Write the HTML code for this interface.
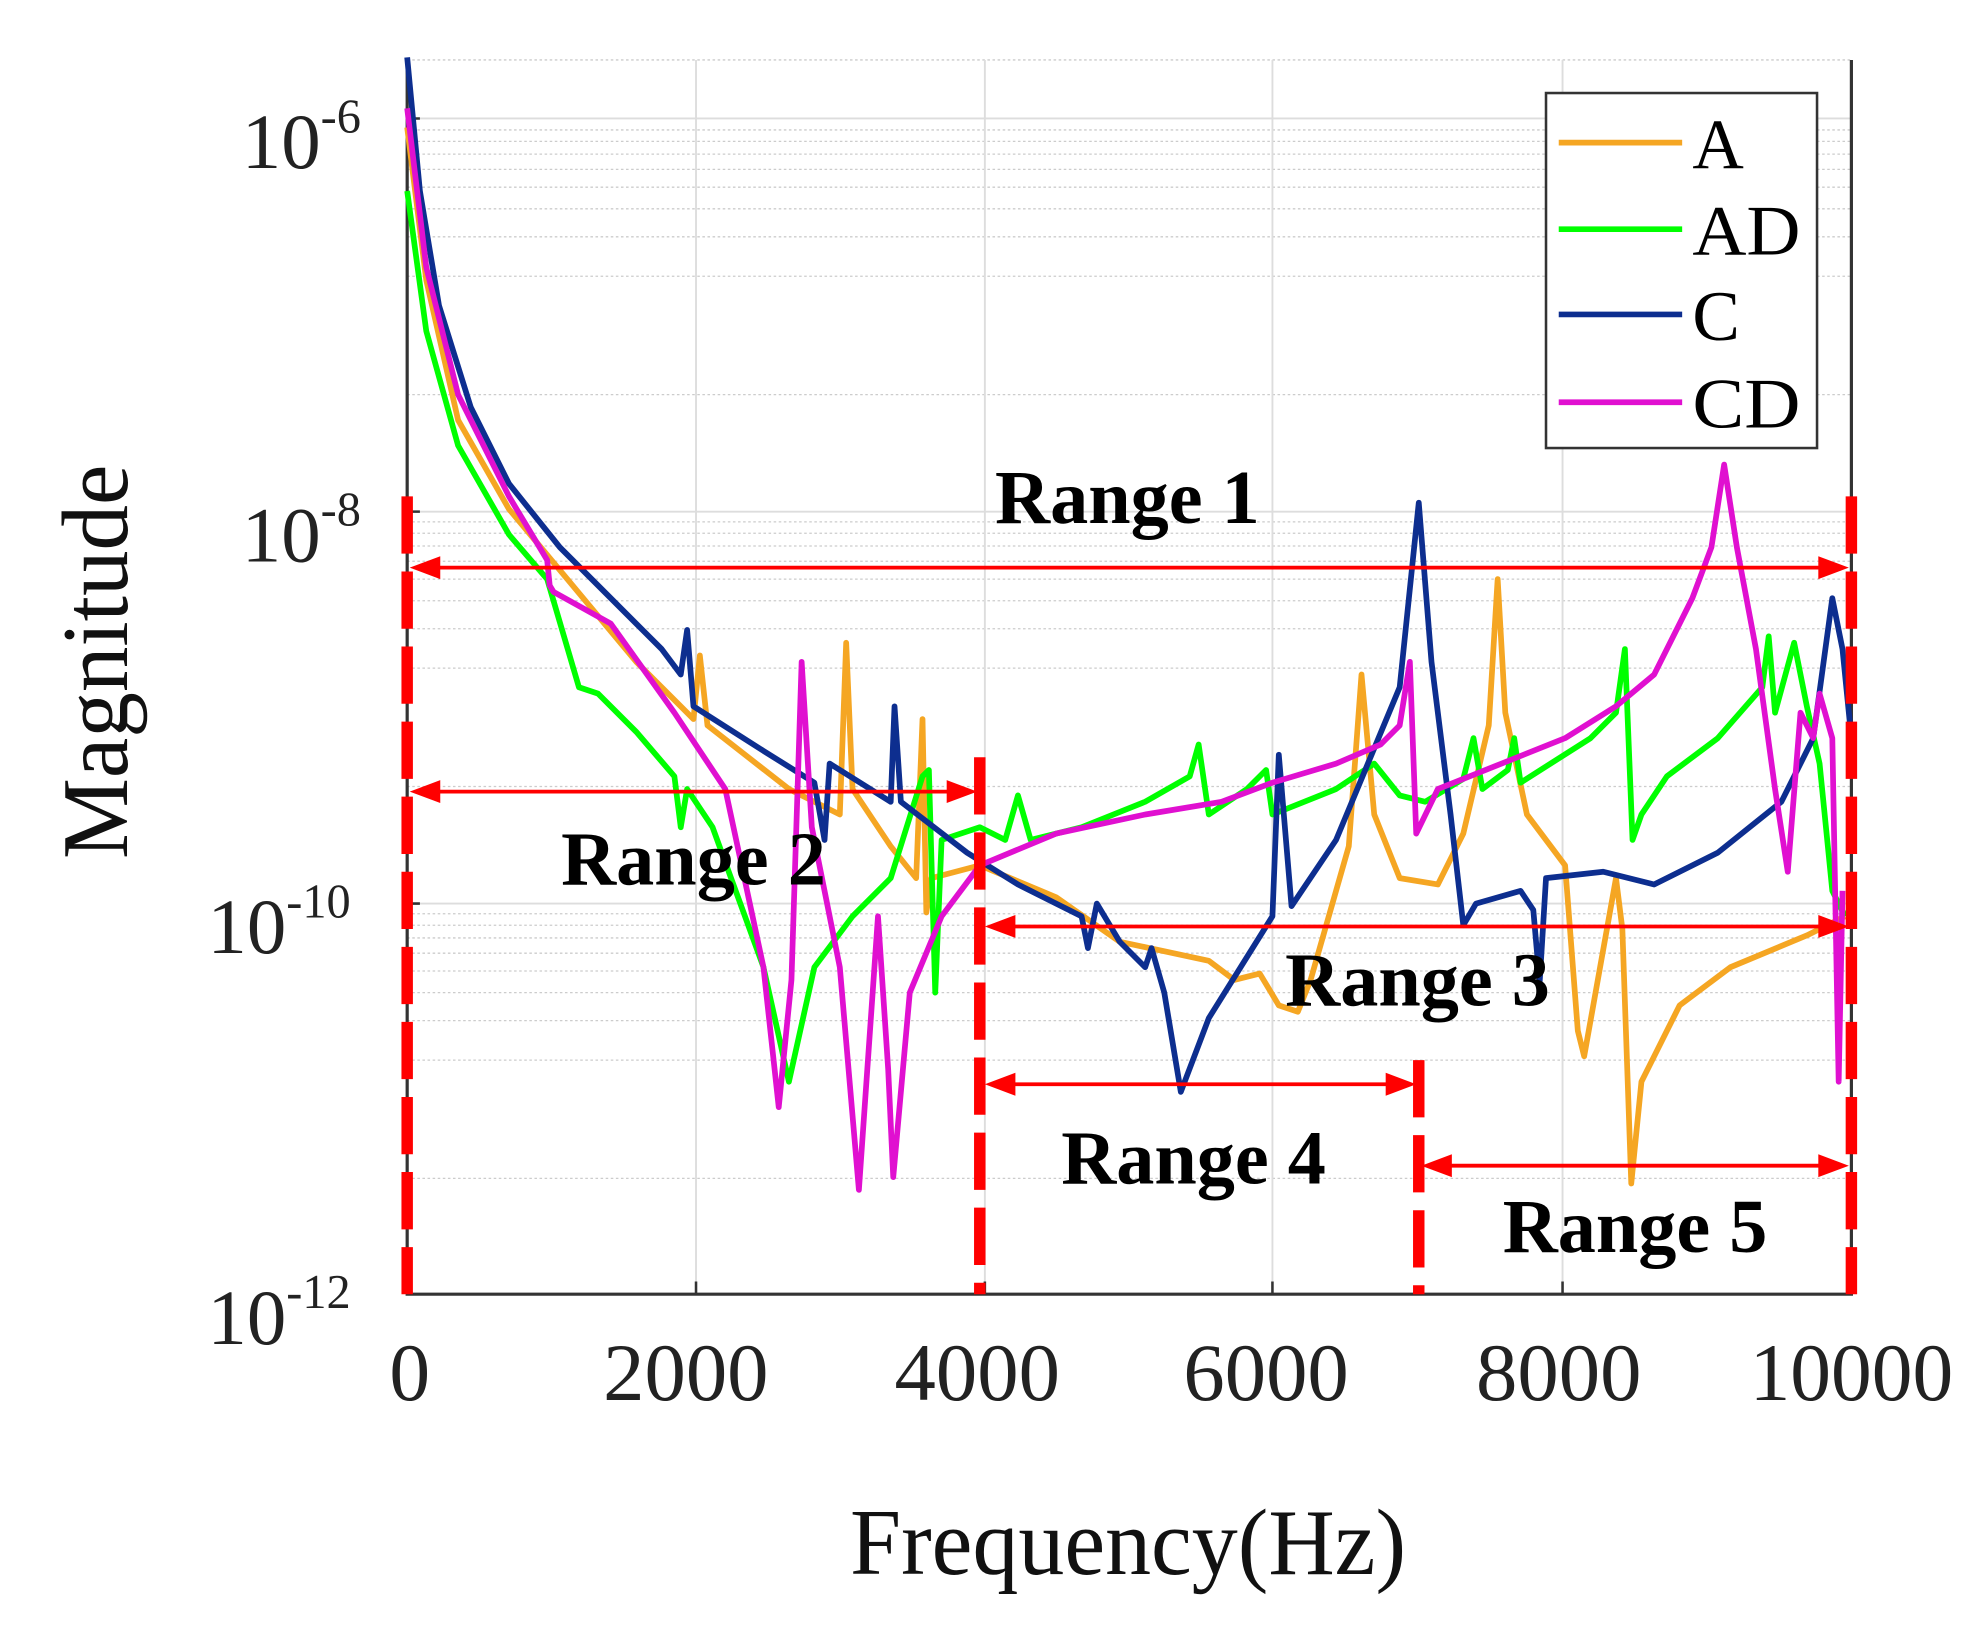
<!DOCTYPE html>
<html><head><meta charset="utf-8"><style>html,body{margin:0;padding:0;background:#fff}svg{display:block}</style></head>
<body>
<svg width="1985" height="1629" viewBox="0 0 1560 1280" xmlns="http://www.w3.org/2000/svg" font-family="'Liberation Serif',serif">
<rect width="1560" height="1280" fill="#fff"/>
<g stroke="#ccc" stroke-width="1" stroke-dasharray="2,2">
<path d="M320 47H1455M320 310H1455M320 217H1455M320 186H1455M320 164H1455M320 147H1455M320 133H1455M320 121H1455M320 111H1455M320 102H1455
M320 618H1455M320 525H1455M320 494H1455M320 472H1455M320 455H1455M320 441H1455M320 429H1455M320 419H1455M320 410H1455
M320 926H1455M320 833H1455M320 802H1455M320 780H1455M320 763H1455M320 749H1455M320 737H1455M320 727H1455M320 718H1455"/>
</g>
<g stroke="#ddd" stroke-width="1.5">
<path d="M547 47V1017M774 47V1017M1000 47V1017M1228 47V1017M320 93H1455M320 402H1455M320 710H1455"/>
</g>
<path d="M320 47V1017H1455V47" fill="none" stroke="#333" stroke-width="2.5"/>
<path d="M547 1017v-10M774 1017v-10M1000 1017v-10M1228 1017v-10M320 93h10M320 402h10M320 710h10" stroke="#333" stroke-width="2"/>
<g fill="none" stroke-width="4.5" stroke-linejoin="round">
<path stroke="#f5a623" d="M320 100L335 220L360 330L400 400L450 460L500 520L545 565L550 515L556 570L620 620L660 640L665 505L670 620L700 665L720 690L725 565L728 717L732 690L770 680L830 705L880 740L950 755L970 770L990 765L1005 790L1020 795L1030 770L1060 665L1070 530L1080 640L1100 690L1130 695L1150 655L1170 570L1177 455L1183 560L1200 640L1230 680L1240 810L1245 830L1270 690L1275 730L1282 930L1290 850L1320 790L1360 760L1420 735L1450 720"/>
<path stroke="#00ff00" d="M320 150L335 260L360 350L400 420L430 455L455 540L470 545L500 575L530 610L535 650L540 620L560 650L600 760L620 850L640 760L670 720L700 690L725 610L730 605L735 780L740 660L770 650L790 660L800 625L810 660L850 650L900 630L935 610L942 585L950 640L980 620L995 605L1000 640L1050 620L1080 600L1100 625L1120 630L1150 612L1158 580L1165 620L1185 605L1190 580L1195 615L1250 580L1270 560L1277 510L1283 660L1290 640L1310 610L1350 580L1385 540L1390 500L1395 560L1410 505L1420 555L1430 600L1440 700L1450 720"/>
<path stroke="#0d2e8f" d="M320 45L330 150L345 240L370 320L400 380L440 430L480 470L520 510L535 530L540 495L545 555L600 590L640 615L648 660L652 600L700 630L703 555L708 630L760 670L800 695L850 720L855 745L862 710L880 740L900 760L905 745L915 780L928 858L950 800L1000 720L1005 593L1015 712L1050 660L1100 540L1115 395L1125 520L1140 640L1150 727L1160 710L1195 700L1205 715L1210 772L1215 690L1260 685L1300 695L1350 670L1400 630L1425 580L1440 470L1448 510L1455 580"/>
<path stroke="#e010d0" d="M320 85L335 210L360 310L400 390L430 440L432 460L435 465L480 490L530 560L570 620L600 760L612 870L622 770L630 520L638 650L660 760L675 935L690 720L698 840L702 925L715 780L740 720L770 680L830 655L900 640L960 630L1000 615L1050 600L1085 585L1100 570L1108 520L1113 655L1130 620L1180 600L1230 580L1270 555L1300 530L1330 470L1345 430L1355 365L1365 430L1380 510L1395 620L1405 685L1415 560L1425 580L1430 545L1440 580L1445 850L1448 700"/>
</g>
<g stroke="#ff0000" stroke-width="9" stroke-dasharray="45,14">
<path d="M320 390V1017M770 595V1017M1115 833V1017M1455 390V1017"/>
</g>
<g stroke="#ff0000" stroke-width="3" fill="none">
<path d="M335 446H1440M335 622H755M788 728H1440M788 852H1100M1130 916H1440"/>
</g>
<g fill="#ff0000">
<path d="M322 446l24-9v18zM1453 446l-24-9v18z"/>
<path d="M322 622l24-9v18zM768 622l-24-9v18z"/>
<path d="M774 728l24-9v18zM1453 728l-24-9v18z"/>
<path d="M774 852l24-9v18zM1113 852l-24-9v18z"/>
<path d="M1117 916l24-9v18zM1453 916l-24-9v18z"/>
</g>
<g font-weight="bold" font-size="60" fill="#000">
<text x="782" y="411" textLength="208" lengthAdjust="spacingAndGlyphs">Range 1</text>
<text x="441" y="695" textLength="208" lengthAdjust="spacingAndGlyphs">Range 2</text>
<text x="1010" y="790" textLength="208" lengthAdjust="spacingAndGlyphs">Range 3</text>
<text x="834" y="930" textLength="208" lengthAdjust="spacingAndGlyphs">Range 4</text>
<text x="1181" y="984" textLength="208" lengthAdjust="spacingAndGlyphs">Range 5</text>
</g>
<rect x="1215" y="73" width="213" height="279" fill="#fff" stroke="#333" stroke-width="2"/>
<g stroke-width="4.5">
<path d="M1225 112H1322" stroke="#f5a623"/>
<path d="M1225 180H1322" stroke="#00ff00"/>
<path d="M1225 247H1322" stroke="#0d2e8f"/>
<path d="M1225 316H1322" stroke="#e010d0"/>
</g>
<g font-size="56" fill="#000">
<text x="1330" y="132">A</text>
<text x="1330" y="200" textLength="85" lengthAdjust="spacingAndGlyphs">AD</text>
<text x="1330" y="267">C</text>
<text x="1330" y="336" textLength="85" lengthAdjust="spacingAndGlyphs">CD</text>
</g>
<g font-size="62" fill="#222">
<text x="190" y="132">10<tspan font-size="38" dy="-28">-6</tspan></text>
<text x="190" y="441">10<tspan font-size="38" dy="-28">-8</tspan></text>
<text x="163" y="749">10<tspan font-size="38" dy="-28">-10</tspan></text>
<text x="163" y="1056">10<tspan font-size="38" dy="-28">-12</tspan></text>
</g>
<g font-size="64" fill="#222">
<text x="306" y="1100" textLength="32" lengthAdjust="spacingAndGlyphs">0</text>
<text x="474" y="1100" textLength="130" lengthAdjust="spacingAndGlyphs">2000</text>
<text x="703" y="1100" textLength="130" lengthAdjust="spacingAndGlyphs">4000</text>
<text x="930" y="1100" textLength="130" lengthAdjust="spacingAndGlyphs">6000</text>
<text x="1160" y="1100" textLength="130" lengthAdjust="spacingAndGlyphs">8000</text>
<text x="1375" y="1100" textLength="160" lengthAdjust="spacingAndGlyphs">10000</text>
</g>
<text x="668" y="1237" font-size="74" fill="#111" textLength="437" lengthAdjust="spacingAndGlyphs">Frequency(Hz)</text>
<text transform="translate(100,675) rotate(-90)" font-size="74" fill="#111" textLength="310" lengthAdjust="spacingAndGlyphs">Magnitude</text>
</svg>
</body></html>
